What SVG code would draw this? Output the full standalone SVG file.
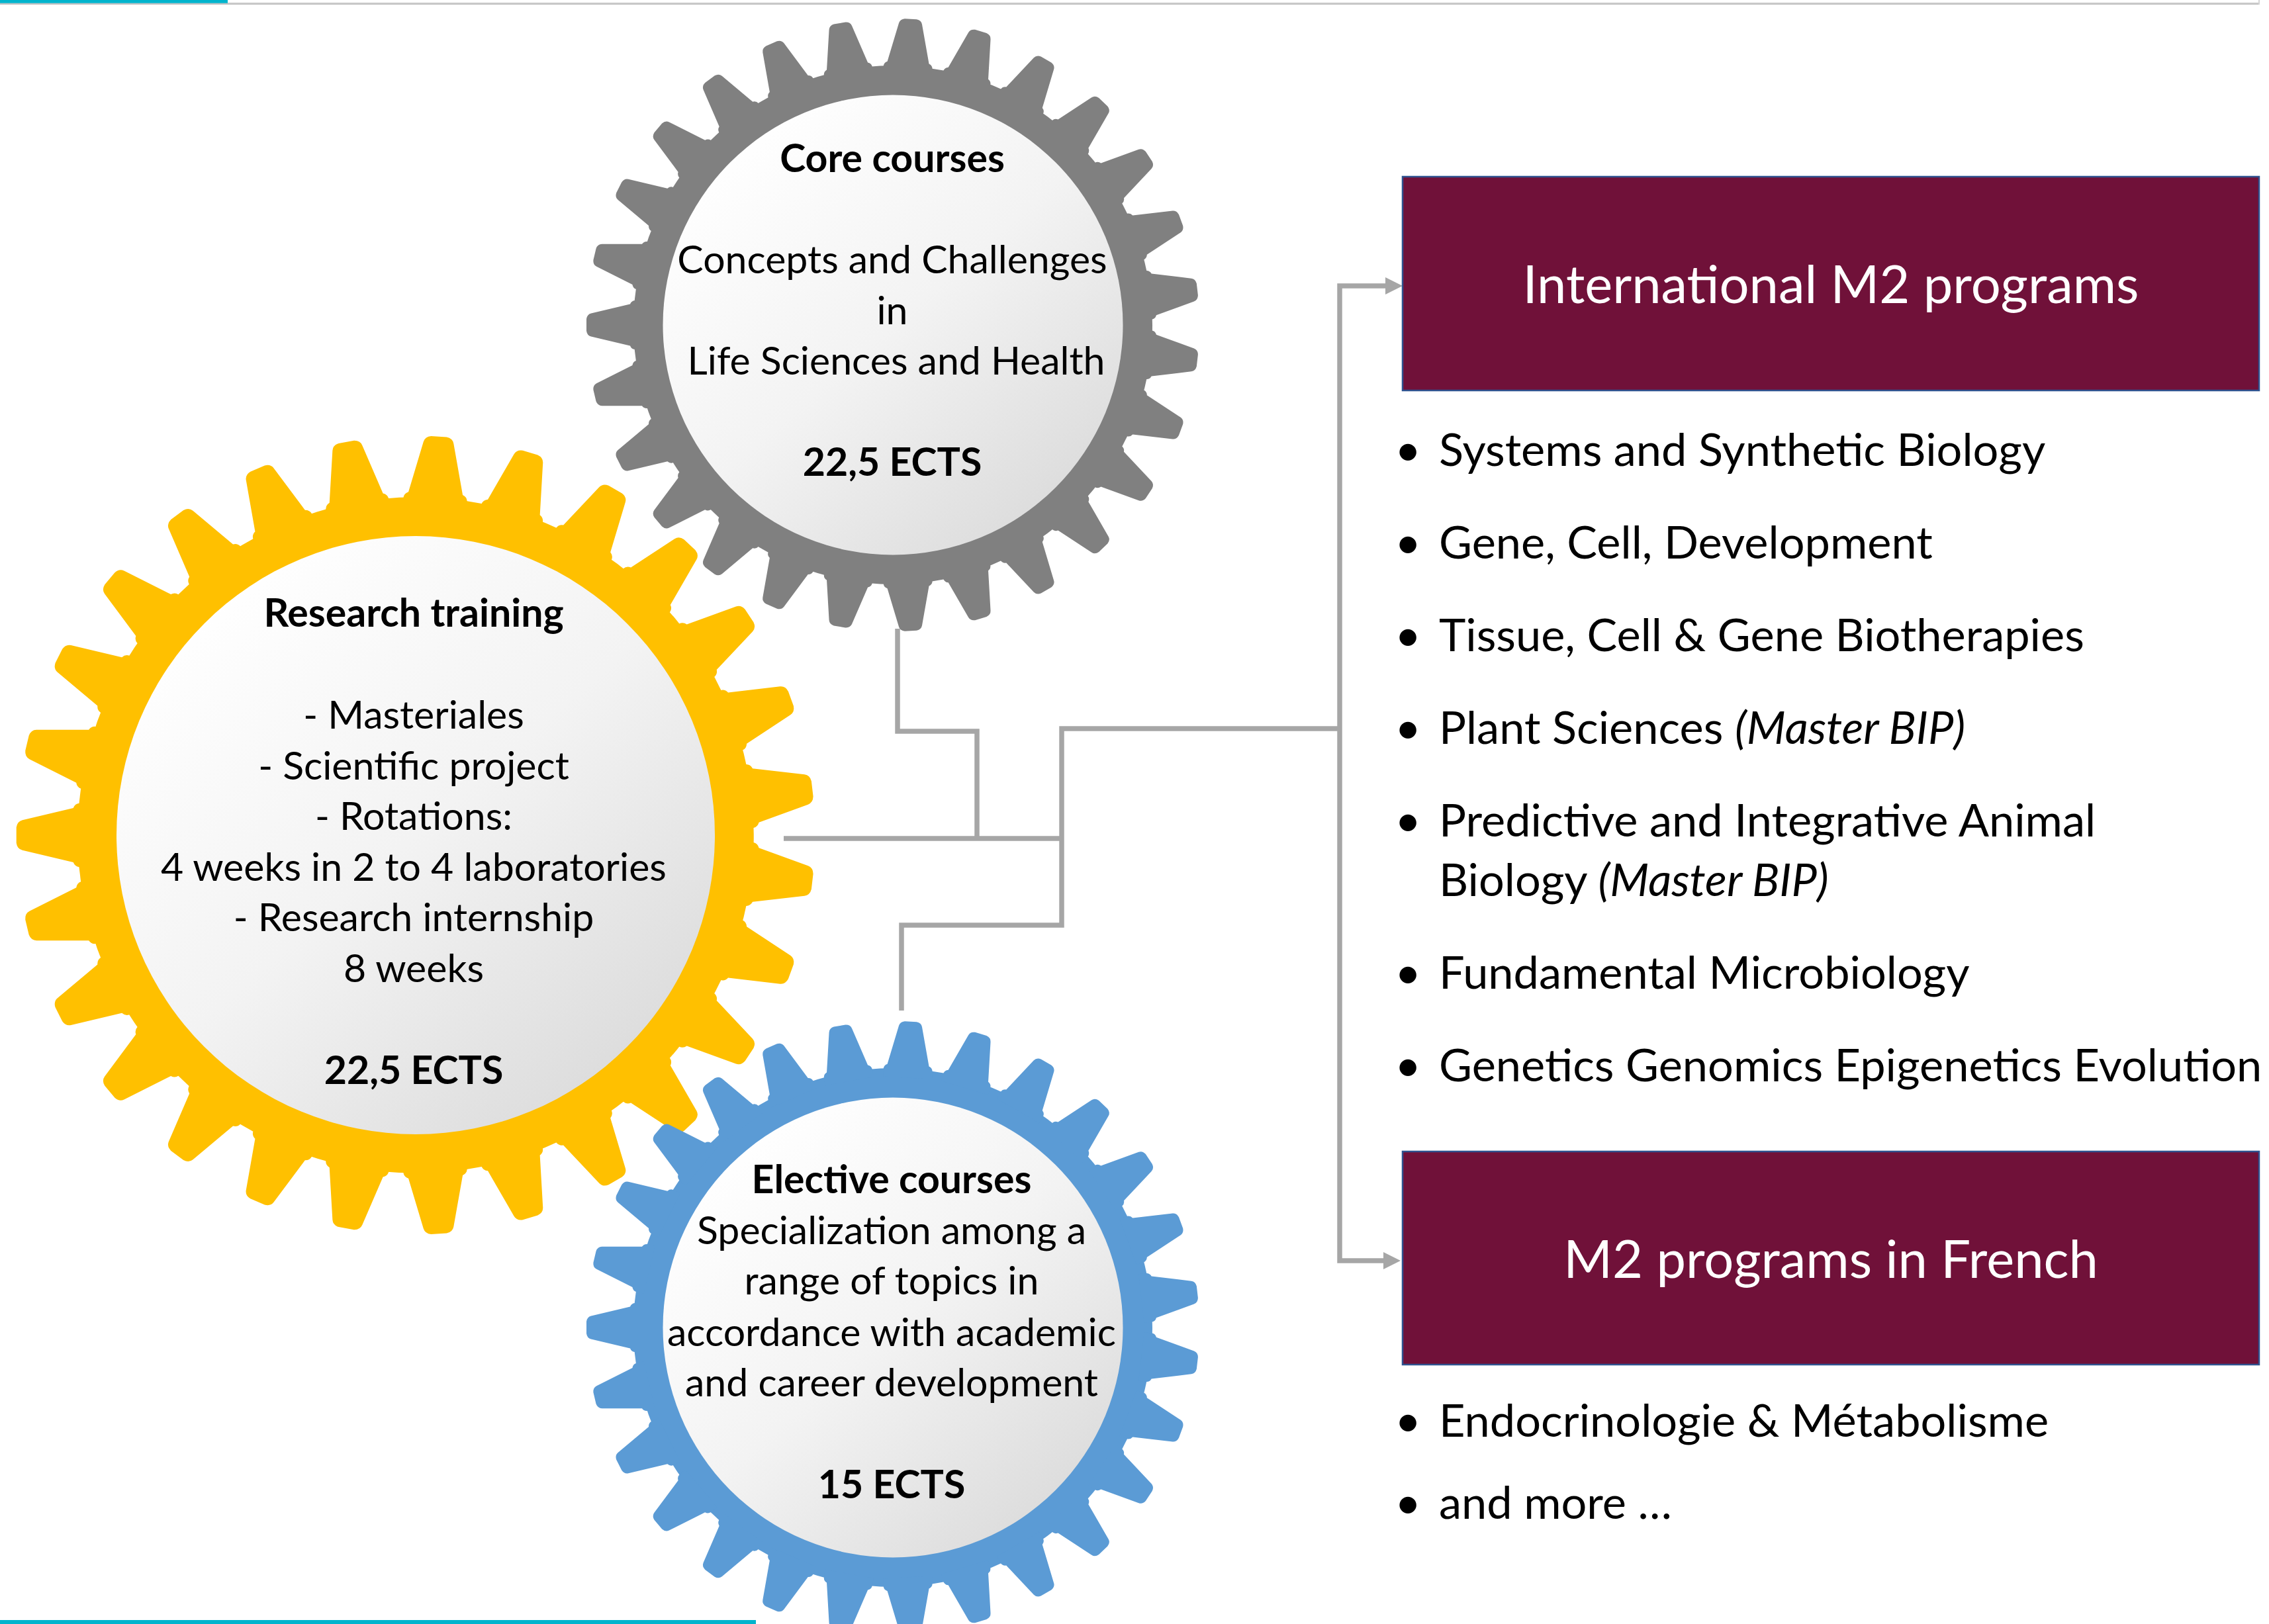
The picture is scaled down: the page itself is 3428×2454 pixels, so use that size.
<svg xmlns="http://www.w3.org/2000/svg" xmlns:xlink="http://www.w3.org/1999/xlink" width="3428" height="2454" viewBox="0 0 3428 2454">
<style>
.gt{font-family:Lato,"Open Sans","Liberation Sans",sans-serif;font-size:59px;fill:#000;text-anchor:middle}
.b{font-weight:700}
.bt{font-family:Lato,"Open Sans","Liberation Sans",sans-serif;font-size:68.5px;fill:#000}
.bu{font-family:Lato,"Open Sans","Liberation Sans",sans-serif;font-size:68.5px;fill:#000;text-anchor:middle}
.tt{font-family:Lato,"Open Sans","Liberation Sans",sans-serif;font-size:79.5px;fill:#fff;text-anchor:middle}
.box{fill:#701139;stroke:#2f528f;stroke-width:2.5}
.con{fill:none;stroke:#a6a6a6;stroke-width:7.5;stroke-linejoin:miter;stroke-linecap:butt}
</style>
<defs>
<linearGradient id="face" x1="0.15" y1="0.1" x2="0.85" y2="0.9">
<stop offset="0" stop-color="#ffffff"/>
<stop offset="0.5" stop-color="#f3f3f3"/>
<stop offset="1" stop-color="#dcdcdc"/>
</linearGradient>
<path id="tooth" d="M -378,-37 L -390,-37 Q -395,-36.5 -397,-31.5 L -456,-17.5 Q -462,-16 -463,-9 L -463,9 Q -462,16 -456,17.5 L -397,31.5 Q -395,36.5 -390,37 L -378,37 Z"/>
<g id="gear">
<circle cx="0" cy="0" r="392"/>
<use xlink:href="#tooth" transform="rotate(0)"/>
<use xlink:href="#tooth" transform="rotate(13.3333)"/>
<use xlink:href="#tooth" transform="rotate(26.6667)"/>
<use xlink:href="#tooth" transform="rotate(40)"/>
<use xlink:href="#tooth" transform="rotate(53.3333)"/>
<use xlink:href="#tooth" transform="rotate(66.6667)"/>
<use xlink:href="#tooth" transform="rotate(80)"/>
<use xlink:href="#tooth" transform="rotate(93.3333)"/>
<use xlink:href="#tooth" transform="rotate(106.6667)"/>
<use xlink:href="#tooth" transform="rotate(120)"/>
<use xlink:href="#tooth" transform="rotate(133.3333)"/>
<use xlink:href="#tooth" transform="rotate(146.6667)"/>
<use xlink:href="#tooth" transform="rotate(160)"/>
<use xlink:href="#tooth" transform="rotate(173.3333)"/>
<use xlink:href="#tooth" transform="rotate(186.6667)"/>
<use xlink:href="#tooth" transform="rotate(200)"/>
<use xlink:href="#tooth" transform="rotate(213.3333)"/>
<use xlink:href="#tooth" transform="rotate(226.6667)"/>
<use xlink:href="#tooth" transform="rotate(240)"/>
<use xlink:href="#tooth" transform="rotate(253.3333)"/>
<use xlink:href="#tooth" transform="rotate(266.6667)"/>
<use xlink:href="#tooth" transform="rotate(280)"/>
<use xlink:href="#tooth" transform="rotate(293.3333)"/>
<use xlink:href="#tooth" transform="rotate(306.6667)"/>
<use xlink:href="#tooth" transform="rotate(320)"/>
<use xlink:href="#tooth" transform="rotate(333.3333)"/>
<use xlink:href="#tooth" transform="rotate(346.6667)"/>
</g>
<marker id="arrow" markerUnits="userSpaceOnUse" markerWidth="26" markerHeight="26" refX="0" refY="12" orient="auto" viewBox="0 0 24 24">
<polygon points="0,0 24,12 0,24" fill="#a6a6a6"/>
</marker>
</defs>

<rect x="0" y="0" width="3428" height="2454" fill="#ffffff"/>

<g id="decor">
<rect x="0" y="3.5" width="3414" height="1.2" fill="#e4e4e4"/>
<rect x="0" y="4.6" width="3414" height="2.4" fill="#c0c0c0"/>
<rect x="3412" y="0" width="2" height="7" fill="#d4d4d4"/>
<rect x="0" y="0" width="344" height="4.7" fill="#00b4cd"/>
<rect x="0" y="2448" width="1142" height="6" fill="#00b4cd"/>
</g>

<g id="connectors">
<path class="con" d="M1356,950 V1105 H1476 V1267"/>
<path class="con" d="M1184,1267 H1607"/>
<path class="con" d="M1362,1527 V1398 H1604 V1101 H2024"/>
<path class="con" d="M2024,1101 V432 H2093" marker-end="url(#arrow)"/>
<path class="con" d="M2024,1101 V1905 H2090" marker-end="url(#arrow)"/>
</g>

<g id="node-research-training">
<use xlink:href="#gear" transform="translate(628,1262) scale(1.303)" fill="#ffc000"/>
<circle cx="628" cy="1262" r="452" fill="url(#face)"/>
<text class="gt b" x="625" y="947">Research training</text>
<text class="gt" x="625" y="1101">- Masteriales</text>
<text class="gt" x="625" y="1178">- Scientific project</text>
<text class="gt" x="625" y="1254">- Rotations:</text>
<text class="gt" x="625" y="1331">4 weeks in 2 to 4 laboratories</text>
<text class="gt" x="625" y="1407">- Research internship</text>
<text class="gt" x="625" y="1484">8 weeks</text>
<text class="gt b" x="625" y="1638">22,5 ECTS</text>
</g>

<g id="node-core-courses">
<use xlink:href="#gear" transform="translate(1349,491)" fill="#808080"/>
<circle cx="1349" cy="491" r="347.5" fill="url(#face)"/>
<text class="gt b" x="1348" y="260">Core courses</text>
<text class="gt" x="1348" y="413">Concepts and Challenges</text>
<text class="gt" x="1348" y="490">in</text>
<text class="gt" x="1354" y="566">Life Sciences and Health</text>
<text class="gt b" x="1348" y="719">22,5 ECTS</text>
</g>

<g id="node-elective-courses">
<use xlink:href="#gear" transform="translate(1349,2006)" fill="#5b9bd5"/>
<circle cx="1349" cy="2006" r="347.5" fill="url(#face)"/>
<text class="gt b" x="1347" y="1803">Elective courses</text>
<text class="gt" x="1347" y="1880">Specialization among a</text>
<text class="gt" x="1347" y="1956">range of topics in</text>
<text class="gt" x="1347" y="2034">accordance with academic</text>
<text class="gt" x="1347" y="2110">and career development</text>
<text class="gt b" x="1347" y="2264">15 ECTS</text>
</g>

<g id="node-international">
<rect class="box" x="2119" y="267" width="1294" height="323"/>
<text class="tt" x="2766" y="458">International M2 programs</text>
</g>

<g id="list-international">
<text class="bu" x="2127" y="704">•</text><text class="bt" x="2174" y="704">Systems and Synthetic Biology</text>
<text class="bu" x="2127" y="844">•</text><text class="bt" x="2174" y="844">Gene, Cell, Development</text>
<text class="bu" x="2127" y="984">•</text><text class="bt" x="2174" y="984">Tissue, Cell &amp; Gene Biotherapies</text>
<text class="bu" x="2127" y="1124">•</text><text class="bt" x="2174" y="1124">Plant Sciences <tspan font-style="italic">(Master BIP)</tspan></text>
<text class="bu" x="2127" y="1264">•</text><text class="bt" x="2174" y="1264">Predictive and Integrative Animal</text>
<text class="bt" x="2174" y="1354">Biology <tspan font-style="italic">(Master BIP)</tspan></text>
<text class="bu" x="2127" y="1494">•</text><text class="bt" x="2174" y="1494">Fundamental Microbiology</text>
<text class="bu" x="2127" y="1634">•</text><text class="bt" x="2174" y="1634">Genetics Genomics Epigenetics Evolution</text>
</g>

<g id="node-french">
<rect class="box" x="2119" y="1740" width="1294" height="322"/>
<text class="tt" x="2766" y="1931">M2 programs in French</text>
</g>

<g id="list-french">
<text class="bu" x="2127" y="2171">•</text><text class="bt" x="2174" y="2171">Endocrinologie &amp; Métabolisme</text>
<text class="bu" x="2127" y="2295">•</text><text class="bt" x="2174" y="2295">and more …</text>
</g>
</svg>
